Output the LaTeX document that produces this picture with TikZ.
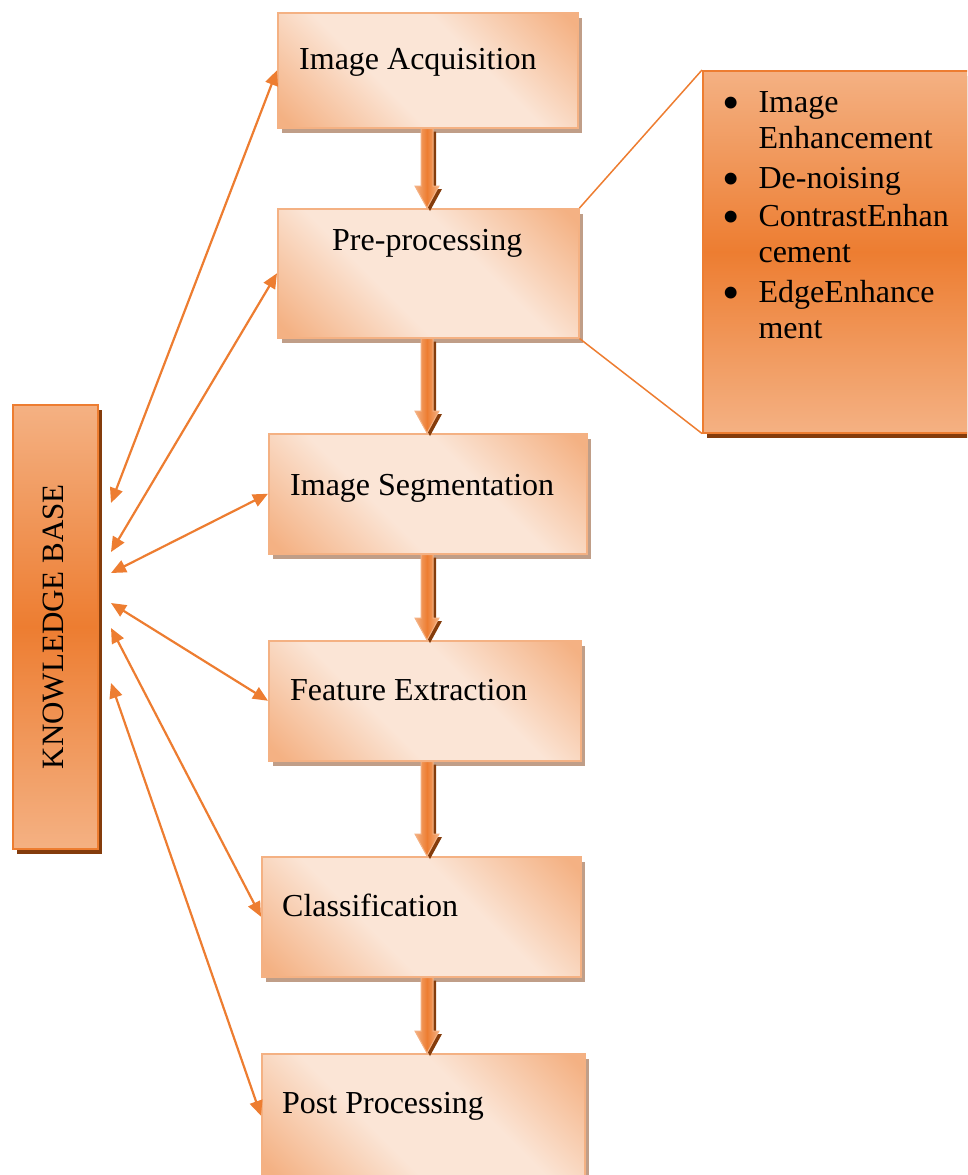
\documentclass[tikz,border=0pt]{standalone}
\usepackage{fontspec}
\setmainfont{Liberation Serif}
\usetikzlibrary{arrows.meta,calc,shadows}

\definecolor{accent}{HTML}{ED7D31}
\definecolor{accentlight}{HTML}{F4B183}
\definecolor{accentpale}{HTML}{FBE5D6}
\definecolor{accentdark}{HTML}{843C0C}
\definecolor{boxshade}{RGB}{192,158,136}

% pale band across the step boxes
\pgfdeclareverticalshading{stepfade}{100bp}{color(0bp)=(accentlight); color(17bp)=(accentlight);
  color(40bp)=(accentpale); color(60bp)=(accentpale); color(83bp)=(accentlight); color(100bp)=(accentlight)}

\tikzset{
  procbox/.style={draw=accentlight, line width=1.5pt, anchor=north west, inner sep=0pt,
    shading=stepfade, shading angle=-45,
    drop shadow={shadow xshift=4pt, shadow yshift=-5pt, opacity=1, fill=boxshade}},
  darkbox/.style={draw=accent, line width=1.5pt, anchor=north west, inner sep=0pt,
    top color=accentlight, bottom color=accentlight, middle color=accent,
    drop shadow={shadow xshift=4pt, shadow yshift=-5pt, opacity=1, fill=accentdark}},
  boxtext/.style={anchor=base west, inner sep=0pt, font=\fontsize{32}{37}\selectfont},
  link/.style={draw=accent, line width=2.2pt,
    {Triangle[length=15pt,width=13pt]}-{Triangle[length=15pt,width=13pt]}},
  calloutline/.style={draw=accent, line width=1.5pt}
}

\newcommand{\bigdot}{\raisebox{-7pt}[0pt][0pt]{\scalebox{1.55}{\textbullet}}}

% thick block arrow between two boxes, on the spine
\newcommand{\flowarrow}[2]{%
  \path[fill=accentdark] let \p1=($(#1.south -| spine)+(3pt,-3pt)$), \p2=($(#2.north -| spine)+(3pt,-3pt)$) in
    (\x1-6pt,\y1) -- (\x1-6pt,\y2+22pt) -- (\x1-12pt,\y2+22pt) -- (\x1,\y2)
    -- (\x1+12pt,\y2+22pt) -- (\x1+6pt,\y2+22pt) -- (\x1+6pt,\y1) -- cycle;
  \path[draw=accentlight, line width=1pt, left color=accentlight, right color=accentlight, middle color=accent]
    let \p1=(#1.south -| spine), \p2=(#2.north -| spine) in
    (\x1-6pt,\y1) -- (\x1-6pt,\y2+22pt) -- (\x1-12pt,\y2+22pt) -- (\x1,\y2)
    -- (\x1+12pt,\y2+22pt) -- (\x1+6pt,\y2+22pt) -- (\x1+6pt,\y1) -- cycle;
}

\begin{document}
\begin{tikzpicture}[x=1pt,y=-1pt]
\clip (0,0) rectangle (967,1175);
\coordinate (spine) at (427,0);

% knowledge base
\node[darkbox, minimum width=85pt, minimum height=444pt] (kb) at (12,404) {};
\node[rotate=90, inner sep=0pt, font=\fontsize{31}{36}\selectfont] (kbtext) at ($(kb.center)+(-2,0)$) {KNOWLEDGE BASE};

% process steps
\node[procbox, minimum width=300pt, minimum height=115pt] (acq) at (277,12) {};
\node[procbox, minimum width=301pt, minimum height=129pt] (pre) at (277,208) {};
\node[procbox, minimum width=318pt, minimum height=120pt] (seg) at (268,433) {};
\node[procbox, minimum width=312pt, minimum height=120pt] (feat) at (268,640) {};
\node[procbox, minimum width=319pt, minimum height=120pt] (cls) at (261,856) {};
\node[procbox, minimum width=323pt, minimum height=124pt] (post) at (261,1053) {};

\node[boxtext] (acqtext) at (299,69) {Image Acquisition};
\node[boxtext] (pretext) at (332,250) {Pre-processing};
\node[boxtext] (segtext) at (290,495) {Image Segmentation};
\node[boxtext] (feattext) at (290,700) {Feature Extraction};
\node[boxtext] (clstext) at (282,916) {Classification};
\node[boxtext] (posttext) at (282,1113) {Post Processing};

\flowarrow{acq}{pre}
\flowarrow{pre}{seg}
\flowarrow{seg}{feat}
\flowarrow{feat}{cls}
\flowarrow{cls}{post}

% links to the knowledge base
\foreach \b/\y in {acq/503, pre/552, seg/573, feat/603, cls/628, post/683}{
  \coordinate (kb-\b) at (111,\y);
  \draw[link] (kb-\b) -- (\b.west);
}

% pre-processing details
\node[darkbox, minimum width=290pt, minimum height=362pt] (notes) at (702,70) {};
\draw[calloutline] (pre.north east) -- (notes.north west);
\draw[calloutline] (pre.south east) -- (notes.south west);
\node[anchor=base west, inner sep=0pt, font=\fontsize{32}{36}\selectfont] (notestext) at (722,112)
  {\begin{tabular}[t]{@{}l@{\hspace{19pt}}l@{}}
   \bigdot & Image\\
           & Enhancement\\[4pt]
   \bigdot & De-noising\\[2pt]
   \bigdot & ContrastEnhan\\
           & cement\\[4pt]
   \bigdot & EdgeEnhance\\
           & ment
   \end{tabular}};
\end{tikzpicture}
\end{document}
